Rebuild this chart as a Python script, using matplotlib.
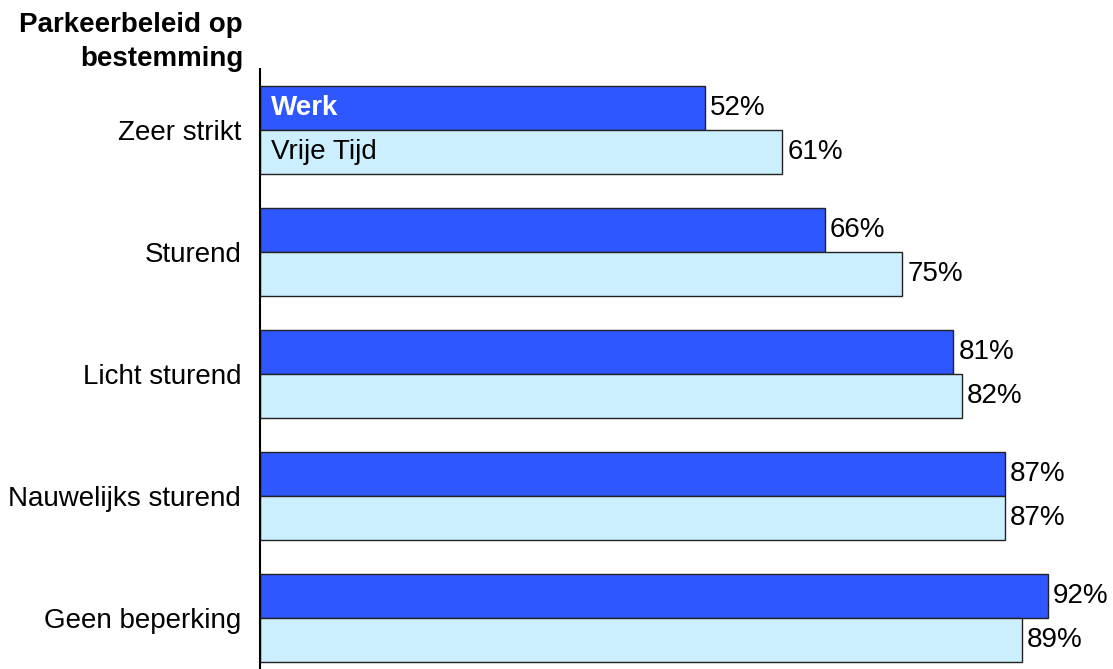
import matplotlib
matplotlib.use("Agg")
import matplotlib.pyplot as plt
import numpy as np

plt.rcParams['font.family'] = ['Liberation Sans', 'DejaVu Sans']

categories = ["Zeer strikt", "Sturend", "Licht sturend", "Nauwelijks sturend", "Geen beperking"]
werk = [52, 66, 81, 87, 92]
vrije_tijd = [61, 75, 82, 87, 89]
series_names = ["Werk", "Vrije Tijd"]
title = "Parkeerbeleid op\nbestemming"

W, H = 1113, 669
fig = plt.figure(figsize=(W / 100, H / 100), dpi=100)
ax = fig.add_axes([260 / W, 0, (W - 260) / W, (H - 69) / H])

y = np.arange(len(categories))
h = 0.36
c_werk = "#2E57FF"
c_vrij = "#CCEFFF"
edge = "#222222"

ax.barh(y - h / 2, werk, height=h, color=c_werk, edgecolor=edge, linewidth=1.0)
ax.barh(y + h / 2, vrije_tijd, height=h, color=c_vrij, edgecolor=edge, linewidth=1.0)

fs = 20
for i in range(len(categories)):
    ax.text(werk[i] + 0.6, y[i] - h / 2, f"{werk[i]}%", va="center", ha="left", fontsize=fs, color="black")
    ax.text(vrije_tijd[i] + 0.6, y[i] + h / 2, f"{vrije_tijd[i]}%", va="center", ha="left", fontsize=fs, color="black")

ax.text(1.3, y[0] - h / 2, series_names[0], va="center", ha="left", fontsize=fs, color="white", fontweight="bold")
ax.text(1.3, y[0] + h / 2, series_names[1], va="center", ha="left", fontsize=fs, color="black")

ax.set_xlim(0, (W - 260) / 8.56)
ax.set_ylim(4.418, -0.5)
ax.set_yticks(y)
ax.set_yticklabels(categories, fontsize=fs)
ax.tick_params(axis="y", length=0, pad=13.5)
ax.set_xticks([])
for s in ["top", "right", "bottom"]:
    ax.spines[s].set_visible(False)
ax.spines["left"].set_linewidth(1.5)
ax.spines["left"].set_color("black")

fig.text(243 / W, 1 - 12 / H, title, ha="right", va="top", fontsize=fs, fontweight="bold",
         linespacing=1.4)

fig.savefig("out.png", dpi=100)
